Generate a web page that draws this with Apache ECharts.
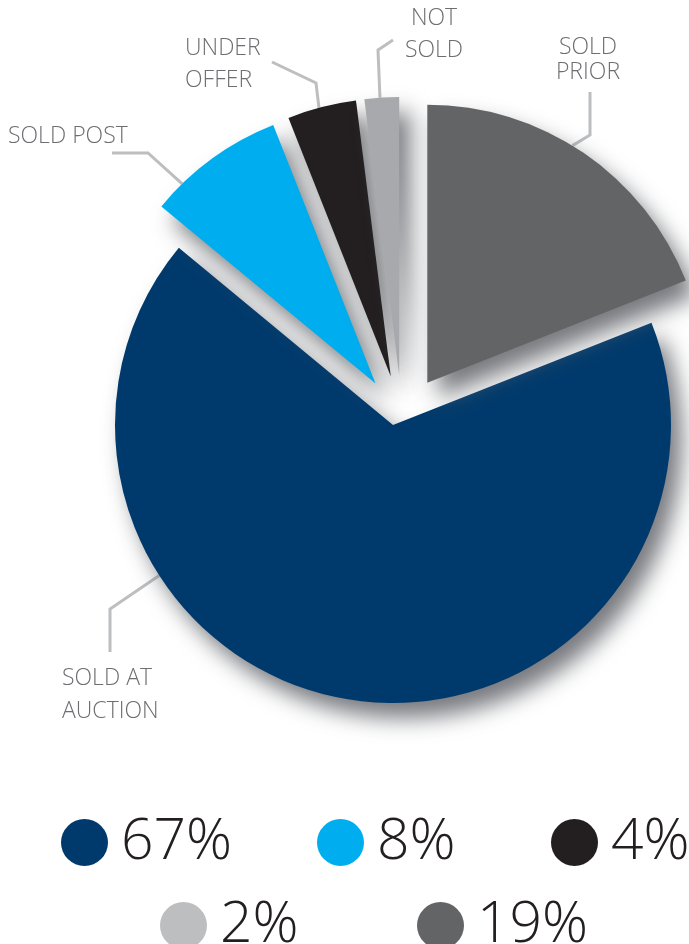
<!DOCTYPE html>
<html><head><meta charset="utf-8">
<script src="https://cdn.jsdelivr.net/npm/echarts@6/dist/echarts.min.js"></script>
<style>html,body{margin:0;padding:0;background:#fff}#c{width:689px;height:944px}</style>
</head><body><div id="c"></div>
<script>
// ---- data ----
const categories = ['SOLD AT AUCTION', 'SOLD POST', 'UNDER OFFER', 'NOT SOLD', 'SOLD PRIOR'];
const labelTexts = ['SOLD AT\nAUCTION', 'SOLD POST', 'UNDER\nOFFER', 'NOT\nSOLD', 'SOLD\nPRIOR'];
const values = [67, 8, 4, 2, 19];
const legendLabels = ['67%', '8%', '4%', '2%', '19%'];

// ---- style ----
const sliceColors = ['#003a6c', '#00aeef', '#231f20', '#a7a9ac', '#636466'];
const legendColors = ['#003a6c', '#00aeef', '#231f20', '#bcbec0', '#636466'];
const explodeDist = [0, 45, 45, 45, 45];
const CENTER = [393, 425], RADIUS = 278, EXPLODE_CENTER = [402, 420];
const labelFont = { fontFamily: 'Open Sans', fontWeight: 300, fontSize: 23, color: '#6d6e71' };
const labelStyle = [
  { x: 62,  y: 662, align: 'left',   lh: 33, anchor: 0.70, path: [[110, 609], [110, 652]] },
  { x: 8,   y: 123, align: 'left',   lh: 26, anchor: 0.22, path: [[148, 153], [112, 153]] },
  { x: 185, y: 32,  align: 'left',   lh: 32, anchor: 0.46, path: [[316, 83], [272, 62]] },
  { x: 434, y: 2,   align: 'center', lh: 32, anchor: 0.45, path: [[378, 50], [393, 40]] },
  { x: 588, y: 35,  align: 'center', lh: 25, anchor: 0.46, path: [[590, 135], [590, 92]] }
];
const legendPos = [[61, 814], [317, 814], [551, 814], [160, 897], [417, 897]];
const shadow = { shadowBlur: 22, shadowColor: 'rgba(105,107,113,0.9)', shadowOffsetX: 11, shadowOffsetY: 15 };

const total = values.reduce((a, b) => a + b, 0);
const startTop = values[values.length - 1] / total * 360; // clockwise from 12 o'clock
const startAngle = 90 - startTop;

function sliceAngles(i) {
  let cum = 0;
  for (let k = 0; k < i; k++) cum += values[k];
  return { a0: startTop + cum / total * 360, span: values[i] / total * 360 };
}
function sliceCenter(i) {
  if (!explodeDist[i]) return CENTER.slice();
  const { a0, span } = sliceAngles(i);
  const mid = (a0 + span / 2) * Math.PI / 180;
  return [EXPLODE_CENTER[0] + explodeDist[i] * Math.sin(mid), EXPLODE_CENTER[1] - explodeDist[i] * Math.cos(mid)];
}
function anchorPoint(i, frac) {
  const { a0, span } = sliceAngles(i);
  const c = sliceCenter(i);
  const ang = (a0 + span * frac) * Math.PI / 180;
  return [c[0] + RADIUS * Math.sin(ang), c[1] - RADIUS * Math.cos(ang)];
}

function makeData(only) {
  return categories.map((name, i) => {
    const visible = i === only;
    const st = labelStyle[i];
    return {
      name, value: values[i],
      itemStyle: visible ? Object.assign({ color: sliceColors[i] }, shadow)
                         : { color: 'rgba(0,0,0,0)', shadowBlur: 0, shadowColor: 'rgba(0,0,0,0)' },
      label: visible ? Object.assign({ show: true, formatter: labelTexts[i], lineHeight: st.lh }, labelFont) : { show: false },
      labelLine: { show: visible }
    };
  });
}

function layoutFn(params) {
  const i = params.dataIndex;
  const st = labelStyle[i];
  return {
    x: st.x, y: st.y, align: st.align, verticalAlign: 'top',
    labelLinePoints: [anchorPoint(i, st.anchor), st.path[0], st.path[1]]
  };
}

const option = {
  backgroundColor: '#fff',
  animation: false,
  legend: categories.map((name, i) => ({
    left: legendPos[i][0], top: legendPos[i][1], padding: 0,
    data: [{ name, itemStyle: { color: legendColors[i], shadowBlur: 0, shadowOffsetX: 0, shadowOffsetY: 0, shadowColor: 'rgba(0,0,0,0)' } }],
    icon: 'circle', itemWidth: 47, itemHeight: 47, selectedMode: false,
    formatter: n => legendLabels[categories.indexOf(n)],
    textStyle: { fontFamily: 'Open Sans', fontWeight: 300, fontSize: 57, color: '#231f20', lineHeight: 47, padding: [0, 0, 0, 8] }
  })),
  series: categories.map((name, i) => ({
    type: 'pie', radius: RADIUS, startAngle, clockwise: true, center: sliceCenter(i),
    avoidLabelOverlap: false, silent: true, animation: false,
    emphasis: { disabled: true },
    label: { position: 'outside' },
    labelLine: { show: true, smooth: false, lineStyle: { color: '#bcbec0', width: 3 } },
    labelLayout: layoutFn,
    data: makeData(i)
  }))
};

const chart = echarts.init(document.getElementById('c'), null, { renderer: 'canvas' });
chart.setOption(option);
</script>
</body></html>
